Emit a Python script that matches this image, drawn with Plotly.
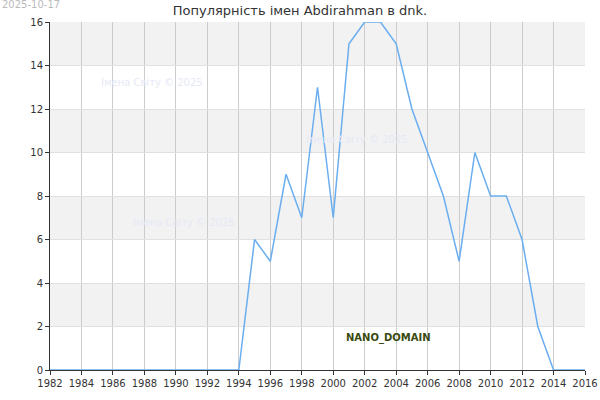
import plotly.graph_objects as go

years = list(range(1982, 2017))
counts = [0]*13 + [6, 5, 9, 7, 13, 7, 15, 16, 16, 15, 12, 10, 8, 5, 10, 8, 8, 6, 2, 0, 0, 0]
band_lo = [2, 6, 10, 14]

fig = go.Figure()
for b in band_lo:
    fig.add_hrect(y0=b, y1=b + 2, fillcolor="#f2f2f2", line_width=0, layer="below")
fig.add_trace(go.Scatter(x=years, y=counts, mode="lines",
                         line=dict(color="#6aaef0", width=1.5), showlegend=False))

fig.update_layout(
    width=600, height=400, plot_bgcolor="white", paper_bgcolor="white",
    margin=dict(l=50, r=15, t=22, b=30, autoexpand=False),
    font=dict(family="DejaVu Sans", size=10, color="#333"),
    title=dict(text="Популярність імен Abdirahman в dnk.", x=0.5, y=0.975,
               xanchor="center", yanchor="middle", font=dict(size=13, color="#333")),
)
fig.update_xaxes(range=[1982, 2016], tickmode="linear", dtick=2, showgrid=True,
                 gridcolor="#cccccc", zeroline=False, showline=True, linecolor="#333",
                 ticks="outside", ticklen=4, tickcolor="#333", automargin=False)
fig.update_yaxes(range=[0, 16], dtick=2, showgrid=True, gridcolor="#e0e0e0",
                 zeroline=False, showline=True, linecolor="#333",
                 ticks="outside", ticklen=4, tickcolor="#333", automargin=False)

fig.add_annotation(text="2025-10-17", xref="paper", yref="paper", x=-0.093, y=1.05,
                   showarrow=False, xanchor="left", yanchor="middle",
                   font=dict(size=10, color="#bbbbbb"))
for x, y in [(1988.5, 13.2), (2001.5, 10.6), (1990.5, 6.8)]:
    fig.add_annotation(text="Імена Світу © 2025", x=x, y=y, showarrow=False,
                       font=dict(size=10, color="#e6e9f5"))
fig.add_annotation(text="<b>NANO_DOMAIN</b>", x=2003.5, y=1.45, showarrow=False,
                   font=dict(size=10, color="#3a4a10"))

# drop the default page margin so the 600x400 figure fills the window
fig.write_html("out.html", config={"displayModeBar": False},
               post_script="document.body.style.margin='0';")
